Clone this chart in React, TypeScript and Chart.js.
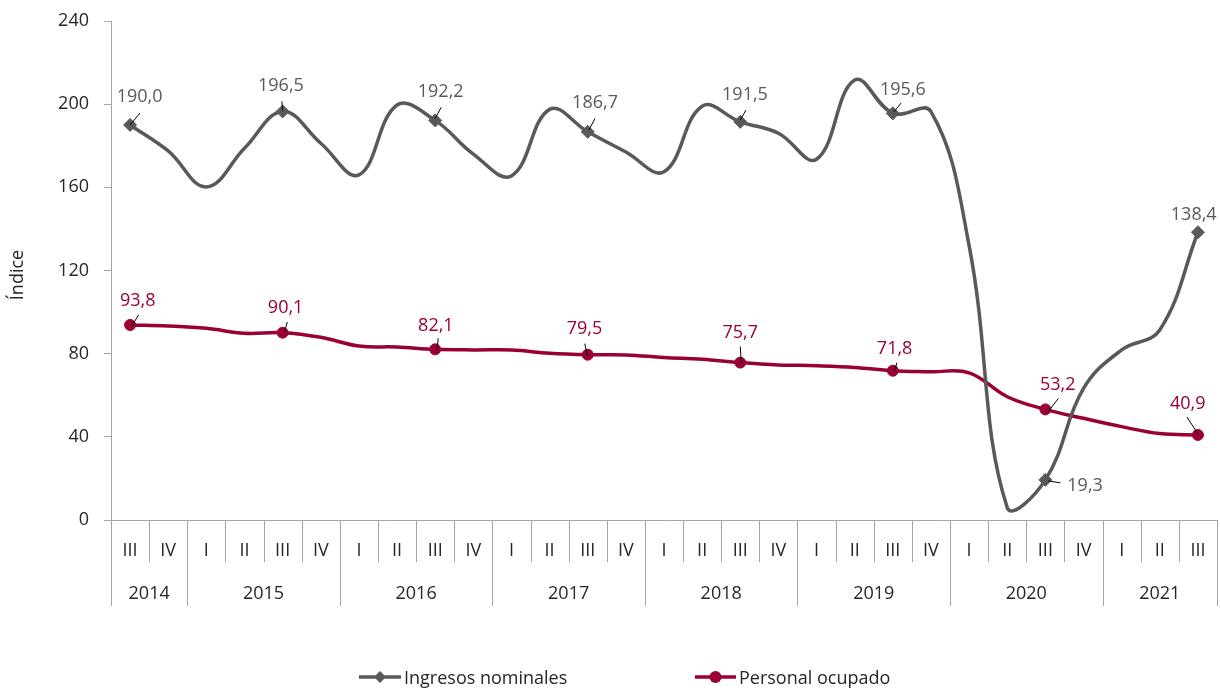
import React, { useEffect, useRef } from "react";
import { Chart, registerables } from "chart.js";

Chart.register(...registerables);

// ---------- data ----------
const quarterLabels = [
  "III", "IV",
  "I", "II", "III", "IV",
  "I", "II", "III", "IV",
  "I", "II", "III", "IV",
  "I", "II", "III", "IV",
  "I", "II", "III", "IV",
  "I", "II", "III", "IV",
  "I", "II", "III",
];
const yearLabels = ["2014", "2015", "2016", "2017", "2018", "2019", "2020", "2021"];
const quartersPerYear = [2, 4, 4, 4, 4, 4, 4, 3];

const ingresosNominales = [
  190.0, 177.5, 160.2, 178.8, 196.5, 181.2, 166.0, 199.6, 192.2, 176.0,
  165.5, 197.5, 186.7, 177.0, 167.5, 199.0, 191.5, 186.0, 173.5, 211.6,
  195.6, 196.4, 132.0, 6.0, 19.3, 63.3, 81.8, 91.4, 138.4,
];
const personalOcupado = [
  93.8, 93.3, 92.2, 89.8, 90.1, 87.9, 83.7, 83.2, 82.1, 81.8,
  81.8, 80.2, 79.5, 79.4, 78.2, 77.3, 75.7, 74.6, 74.2, 73.4,
  71.8, 71.3, 70.8, 59.3, 53.2, 48.9, 44.9, 41.6, 40.9,
];
const yTicks = { min: 0, max: 240, step: 40 };

// ---------- styles ----------
const FONT = "'Open Sans', sans-serif";
const GRAY = "#595959";
const RED = "#990033";
const AXIS = "#a6a6a6";
const TEXT = "#262626";

// label placement: [textDx, textDy, leaderX1, leaderY1, leaderX2, leaderY2] relative to point
const ingLabelPos = [
  [9.5, -29, 0, 0, 10, -12],
  [-1.7, -26.5, 0, -1, -0.7, -10],
  [5.5, -30, 0, -2, 6, -13],
  [7.3, -30.3, 1, -1.6, 7.3, -13.3],
  [4.7, -28.7, 0, -1.7, 5.7, -11.7],
  [10, -25.3, 1, -1.3, 8.3, -10.3],
  [39.7, 5, 3, 1, 15, 3],
  [-4.2, -18.7, 0, 0, 0, 0],
];
const perLabelPos = [
  [7.7, -25.8, 1.4, 1.7, 8.4, -10],
  [3, -26, 1.7, 0, 4.7, -10.7],
  [0.7, -25.2, 2, 0, 3, -11],
  [-3.3, -27.7, 0, 2, -3, -11],
  [0, -31.2, 1, 0, 0, -16],
  [1.8, -22.8, 2, 0, 4, -8],
  [12.3, -26.3, 3, 2, 13, -11],
  [-10.2, -32, -11, -18, 0, -1],
];

const fmt = (v: number) => v.toFixed(1).replace(".", ",");
const isLabeled = (i: number) => i % 4 === 0;

const customPlugin = {
  id: "custom",
  afterDraw(chart: any) {
    const ctx = chart.ctx;
    const area = chart.chartArea;
    const n = quarterLabels.length;
    const w = (area.right - area.left) / n;
    const bottom = area.bottom;

    ctx.save();
    const yearBounds: number[] = [0];
    quartersPerYear.forEach((q) => yearBounds.push(yearBounds[yearBounds.length - 1] + q));

    ctx.strokeStyle = AXIS;
    ctx.lineWidth = 1;
    for (let i = 0; i <= n; i++) {
      const x = Math.round(area.left + i * w) + 0.5;
      const long = yearBounds.includes(i);
      ctx.beginPath();
      ctx.moveTo(x, bottom);
      ctx.lineTo(x, bottom + (long ? 86 : 42));
      ctx.stroke();
    }
    ctx.fillStyle = TEXT;
    ctx.font = `18px ${FONT}`;
    ctx.textAlign = "center";
    ctx.textBaseline = "alphabetic";
    quarterLabels.forEach((q, i) => {
      ctx.fillText(q, area.left + (i + 0.5) * w, bottom + 35.5);
    });
    yearLabels.forEach((y, k) => {
      const cx = area.left + ((yearBounds[k] + yearBounds[k + 1]) / 2) * w;
      ctx.fillText(y, cx, bottom + 78.5);
    });

    // y-axis title
    ctx.save();
    ctx.translate(23, 275);
    ctx.rotate(-Math.PI / 2);
    ctx.textAlign = "center";
    ctx.fillText("Índice", 0, 0);
    ctx.restore();

    // data labels
    const drawLabels = (dsIndex: number, values: number[], pos: number[][], color: string) => {
      const meta = chart.getDatasetMeta(dsIndex);
      let k = 0;
      values.forEach((v, i) => {
        if (!isLabeled(i)) return;
        const p = meta.data[i];
        const o = pos[k++];
        if (!o) return;
        if (o[2] !== o[4] || o[3] !== o[5]) {
          ctx.strokeStyle = "#000";
          ctx.lineWidth = 1;
          ctx.beginPath();
          ctx.moveTo(p.x + o[2], p.y + o[3]);
          ctx.lineTo(p.x + o[4], p.y + o[5]);
          ctx.stroke();
        }
        ctx.fillStyle = color;
        ctx.textAlign = "center";
        ctx.textBaseline = "alphabetic";
        ctx.fillText(fmt(v), p.x + o[0], p.y + o[1] + 6.5);
      });
    };
    ctx.font = `18px ${FONT}`;
    drawLabels(0, ingresosNominales, ingLabelPos, GRAY);
    drawLabels(1, personalOcupado, perLabelPos, RED);

    // legend
    const ly = 677;
    const drawLegend = (x1: number, x2: number, color: string, marker: string, text: string) => {
      ctx.strokeStyle = color;
      ctx.lineWidth = 3.5;
      ctx.beginPath();
      ctx.moveTo(x1, ly);
      ctx.lineTo(x2, ly);
      ctx.stroke();
      const cx = (x1 + x2) / 2;
      ctx.fillStyle = color;
      ctx.beginPath();
      if (marker === "diamond") {
        ctx.moveTo(cx, ly - 6);
        ctx.lineTo(cx + 6, ly);
        ctx.lineTo(cx, ly + 6);
        ctx.lineTo(cx - 6, ly);
        ctx.closePath();
      } else {
        ctx.arc(cx, ly, 6, 0, Math.PI * 2);
      }
      ctx.fill();
      ctx.fillStyle = TEXT;
      ctx.textAlign = "left";
      ctx.textBaseline = "alphabetic";
      ctx.font = `18px ${FONT}`;
      ctx.fillText(text, x2 + 3, ly + 7);
    };
    drawLegend(359, 401, GRAY, "diamond", "Ingresos nominales");
    drawLegend(695, 736, RED, "circle", "Personal ocupado");

    ctx.restore();
  },
};

export default function App() {
  const canvasRef = useRef<HTMLCanvasElement | null>(null);

  useEffect(() => {
    document.body.style.margin = "0";
    const canvas = canvasRef.current;
    if (!canvas) return;
    const chart = new Chart(canvas, {
      type: "line",
      data: {
        labels: quarterLabels,
        datasets: [
          {
            label: "Ingresos nominales",
            data: ingresosNominales,
            borderColor: GRAY,
            backgroundColor: GRAY,
            borderWidth: 3.5,
            tension: 0.4,
            pointStyle: "rectRot",
            pointRadius: (c: any) => (isLabeled(c.dataIndex) ? 6.5 : 0),
            pointBorderWidth: 1,
            pointBorderColor: GRAY,
            pointBackgroundColor: GRAY,
          },
          {
            label: "Personal ocupado",
            data: personalOcupado,
            borderColor: RED,
            backgroundColor: RED,
            borderWidth: 3.5,
            tension: 0.4,
            pointStyle: "circle",
            pointRadius: (c: any) => (isLabeled(c.dataIndex) ? 5.5 : 0),
            pointBorderWidth: 1,
            pointBorderColor: RED,
            pointBackgroundColor: RED,
          },
        ],
      },
      options: {
        responsive: false,
        animation: false,
        events: [],
        devicePixelRatio: 1,
        layout: { autoPadding: false, padding: { top: 21, right: 3, left: 0, bottom: 0 } },
        plugins: {
          legend: { display: false },
          tooltip: { enabled: false },
        },
        scales: {
          x: {
            type: "category",
            offset: true,
            grid: { display: false },
            border: { display: true, color: AXIS, width: 1 },
            ticks: { display: false },
            afterFit: (s: any) => {
              s.height = 172;
              s.paddingLeft = 0;
              s.paddingRight = 0;
              s.paddingTop = 0;
              s.paddingBottom = 0;
            },
          },
          y: {
            min: yTicks.min,
            max: yTicks.max,
            grid: {
              display: true,
              drawOnChartArea: false,
              drawTicks: true,
              tickLength: 7,
              color: AXIS,
            },
            border: { display: true, color: AXIS, width: 1 },
            ticks: {
              stepSize: yTicks.step,
              padding: 15,
              color: TEXT,
              font: { family: FONT, size: 18 },
            },
            afterFit: (s: any) => {
              s.width = 111;
              s.paddingTop = 0;
              s.paddingBottom = 0;
              s.paddingLeft = 0;
              s.paddingRight = 0;
            },
          },
        },
      },
      plugins: [customPlugin],
    } as any);
    return () => chart.destroy();
  }, []);

  return (
    <div style={{ position: "fixed", left: 0, top: 0, width: 1220, height: 692, background: "#fff" }}>
      <canvas ref={canvasRef} width={1220} height={692} />
    </div>
  );
}
